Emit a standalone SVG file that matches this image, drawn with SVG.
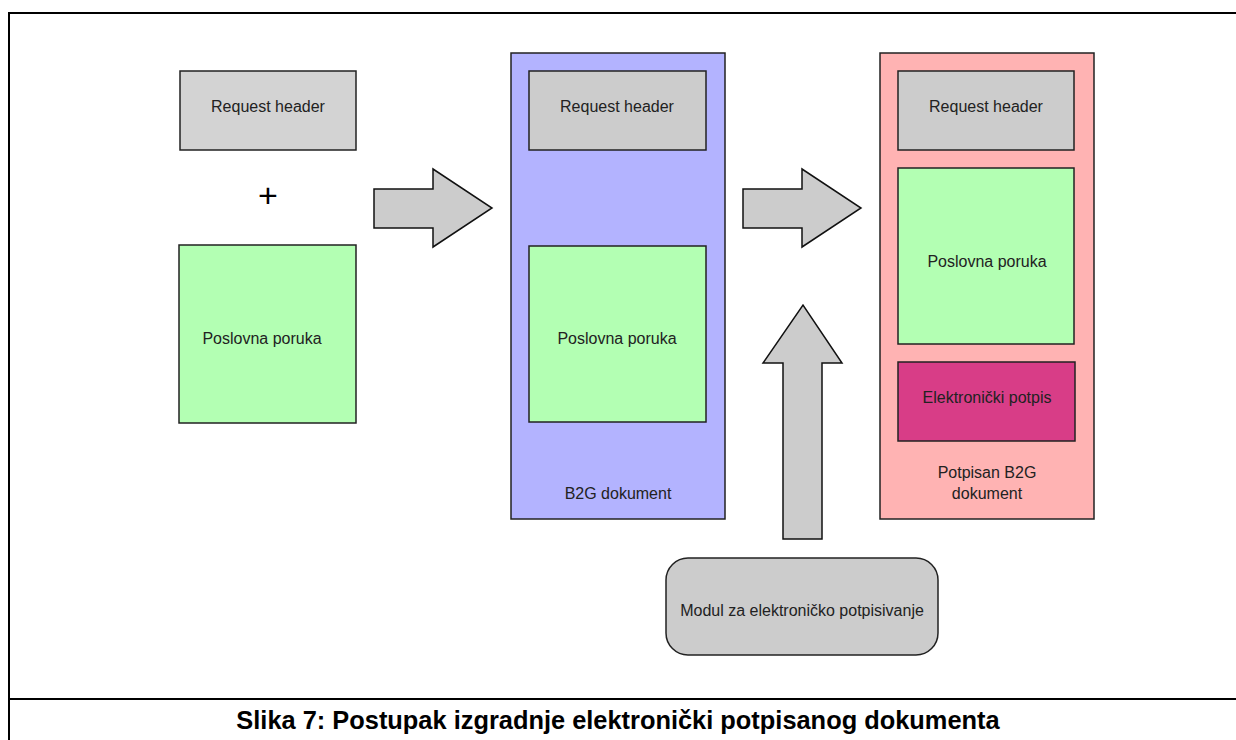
<svg xmlns="http://www.w3.org/2000/svg" width="1236" height="740" viewBox="0 0 1236 740">
<style>
.box{stroke:#222;stroke-width:1.5}
.gray{fill:#cccccc}
.gray2{fill:#d3d3d3}
.green{fill:#b3ffb3}
.blue{fill:#b3b3ff}
.pink{fill:#ffb3b3}
.mag{fill:#d83d87}
.arrow{fill:#cccccc;stroke:#111;stroke-width:1.5;stroke-linejoin:miter}
.lbl{font-family:"Liberation Sans",Arial,sans-serif;font-size:16px;fill:#222;text-anchor:middle}
.cap{font-family:"Liberation Sans",Arial,sans-serif;font-size:25.4px;font-weight:bold;fill:#000;text-anchor:middle}
.frame{stroke:#000;stroke-width:2;fill:none}
</style>
<rect width="1236" height="740" fill="#fff"/>
<g id="frame">
<line class="frame" x1="9" y1="13" x2="1236" y2="13"/>
<line class="frame" x1="9" y1="12" x2="9" y2="740"/>
<line class="frame" x1="9" y1="699" x2="1236" y2="699"/>
</g>
<g id="left-header">
<rect class="box gray2" x="180" y="71" width="176" height="79"/>
<text class="lbl" x="268" y="112">Request header</text>
</g>
<g id="plus">
<text x="268" y="207" font-family="'Liberation Sans',Arial,sans-serif" font-size="34" text-anchor="middle" fill="#000">+</text>
</g>
<g id="left-message">
<rect class="box green" x="179" y="245" width="177" height="178"/>
<text class="lbl" x="262" y="344">Poslovna poruka</text>
</g>
<g id="b2g-doc">
<rect class="box blue" x="511" y="53" width="214" height="466"/>
<text class="lbl" x="618" y="499">B2G dokument</text>
</g>
<g id="b2g-header">
<rect class="box gray" x="529" y="71" width="177" height="79"/>
<text class="lbl" x="617" y="112">Request header</text>
</g>
<g id="b2g-message">
<rect class="box green" x="529" y="246" width="177" height="176"/>
<text class="lbl" x="617" y="344">Poslovna poruka</text>
</g>
<g id="signed-doc">
<rect class="box pink" x="880" y="53" width="214" height="466"/>
<text class="lbl" x="987" y="478">Potpisan B2G</text>
<text class="lbl" x="987" y="499">dokument</text>
</g>
<g id="signed-header">
<rect class="box gray" x="898" y="71" width="176" height="79"/>
<text class="lbl" x="986" y="112">Request header</text>
</g>
<g id="signed-message">
<rect class="box green" x="898" y="168" width="176" height="176"/>
<text class="lbl" x="987" y="267">Poslovna poruka</text>
</g>
<g id="signature">
<rect class="box mag" x="898" y="362" width="177" height="79"/>
<text class="lbl" x="987" y="403">Elektronički potpis</text>
</g>
<g id="signing-module">
<rect class="box gray" x="666" y="558" width="272" height="97" rx="22" ry="22"/>
<text class="lbl" x="802" y="616">Modul za elektroničko potpisivanje</text>
</g>
<g id="connectors">
<polygon class="arrow" points="374,189 433,189 433,169 492,208 433,247 433,228 374,228"/>
<polygon class="arrow" points="743,189 802,189 802,169 861,208 802,247 802,228 743,228"/>
<polygon class="arrow" points="783,539 783,363 763,363 803,305 842,363 822,363 822,539"/>
</g>
<g id="caption">
<text class="cap" x="618" y="729">Slika 7: Postupak izgradnje elektronički potpisanog dokumenta</text>
</g>
</svg>
